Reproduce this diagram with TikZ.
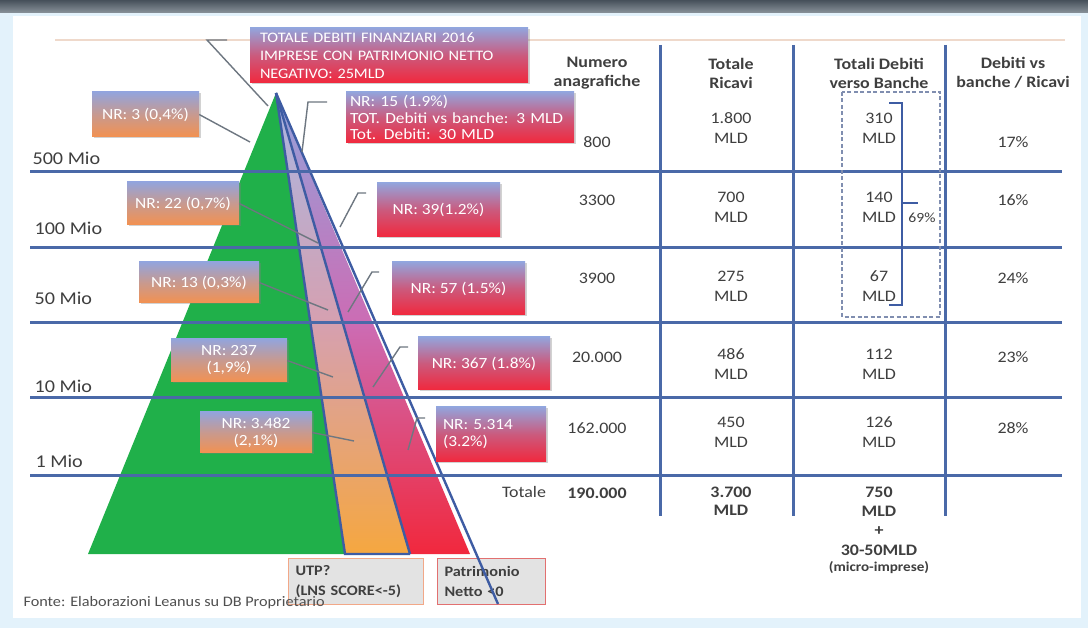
\documentclass[tikz,border=0pt]{standalone}
\usepackage{fontspec}
\setmainfont{Carlito}[FakeStretch=1.12]
\usetikzlibrary{calc,shadows}
\definecolor{skyback}{HTML}{E3F2FB}
\definecolor{barlight}{HTML}{8A939B}
\definecolor{bardark}{HTML}{46505A}
\definecolor{ruleblue}{HTML}{4A69A8}
\definecolor{edgeblue}{HTML}{3E5CA3}
\definecolor{leadgray}{HTML}{6E7781}
\definecolor{txtgray}{HTML}{3F3F3F}
\definecolor{lavtop}{HTML}{93A4DC}
\definecolor{orabot}{HTML}{F39150}
\definecolor{redbot}{HTML}{F1283D}
\definecolor{pyrgreen}{HTML}{20B04A}
\definecolor{peach}{HTML}{EFD9CB}
\newcommand{\callout}[3]{
\draw[lead] (#1) -- (#2) -- (#3);
}
\tikzset{
  rowline/.style={draw=ruleblue, line width=3pt},
  edge/.style={draw=edgeblue, line width=2.4pt},
  lead/.style={draw=leadgray, line width=1.4pt},
  nrbox/.style={inner sep=2pt, text=white, align=center,
    font=\fontsize{15.5}{17}\selectfont,
    drop shadow={opacity=0.35, shadow xshift=1.5pt, shadow yshift=-1.5pt}},
  lbox/.style={nrbox, top color=lavtop, bottom color=orabot, middle color=lavtop!45!orabot},
  rbox/.style={nrbox, top color=lavtop, bottom color=redbot, middle color=lavtop!40!redbot},
  cell/.style={text=txtgray, align=center, font=\fontsize{16}{20}\selectfont},
  hdr/.style={text=txtgray, align=center, font=\fontsize{16}{19}\selectfont\bfseries},
  band/.style={text=txtgray, anchor=west, font=\fontsize{18}{20}\selectfont},
  legbox/.style={fill=gray!22, line width=1pt, minimum height=46pt, inner xsep=7pt,
    text=txtgray, align=left, anchor=north west, font=\fontsize{14.5}{20}\selectfont\bfseries}
}
\begin{document}
\begin{tikzpicture}[x=1pt, y=-1pt]
\useasboundingbox (0, 0) rectangle (1088, 628);
\fill[skyback] (0, 0) rectangle (1088, 628);
\shade[top color=bardark, bottom color=barlight] (0, 0) rectangle (1088, 13);
\fill[white] (13, 16) rectangle (1081, 618);
\draw[peach, line width=1.2pt] (55, 40) -- (1065, 40);

\coordinate (apex) at (276, 93);
\coordinate (gleft) at (88, 554);
\coordinate (gright) at (345, 554);
\coordinate (oright) at (410, 554);
\coordinate (rright) at (470, 554);
\coordinate (rtail) at (498, 604);
\fill[pyrgreen] (apex) -- (gleft) -- (gright) -- cycle;
\shade[top color=lavtop!80!white, bottom color=orabot!80!yellow, middle color={rgb,255:red,214;green,160;blue,176}]
  (apex) -- (gright) -- (oright) -- cycle;
\shade[top color=lavtop, bottom color=redbot, middle color={rgb,255:red,204;green,108;blue,180}]
  (apex) -- (oright) -- (rright) -- cycle;

\node[legbox, draw={rgb,255:red,242;green,168;blue,136}, minimum width=135pt, text width=121pt] (utp) at (288, 558) {UTP?\\(LNS SCORE<-5)};
\node[legbox, draw={rgb,255:red,226;green,112;blue,112}, minimum width=108pt, text width=94pt] (pneg) at (437, 558) {Patrimonio\\Netto <0};

\draw[edge] (apex) -- (gright) -- (oright);
\draw[edge] (apex) -- (oright);
\draw[edge] (apex) -- (rtail);

\foreach \yy in {172, 248, 323, 398, 475}
  \draw[rowline] (30, \yy) -- (1062, \yy);
\foreach \xx in {660, 793, 945}
  \draw[rowline] (\xx, 45) -- (\xx, 516);

\node[band] (m500) at (29, 158) {500 Mio};
\node[band] (m100) at (31, 228) {100 Mio};
\node[band] (m50) at (31, 298) {50 Mio};
\node[band] (m10) at (31, 386) {10 Mio};
\node[band] (m1) at (32, 461) {1 Mio};

\coordinate (tstub) at (227, 40);
\coordinate (tbend) at (207, 40);
\coordinate (ttip) at (268, 106);
\callout{tstub}{tbend}{ttip}
\coordinate (l1tip) at (250, 142);
\coordinate (l2tip) at (318, 243);
\coordinate (l3tip) at (328, 310);
\coordinate (l4tip) at (333, 377);
\coordinate (l5tip) at (354, 441);
\coordinate (r1a) at (327, 102);
\coordinate (r1b) at (308, 102);
\coordinate (r1c) at (302, 152);
\coordinate (r2a) at (366, 193);
\coordinate (r2b) at (358, 193);
\coordinate (r2c) at (340, 227);
\coordinate (r3a) at (379, 272);
\coordinate (r3b) at (372, 272);
\coordinate (r3c) at (348, 312);
\coordinate (r4a) at (408, 347);
\coordinate (r4b) at (400, 347);
\coordinate (r4c) at (373, 387);
\coordinate (r5a) at (425, 418);
\coordinate (r5b) at (417, 418);
\coordinate (r5c) at (408, 450);
\callout{r1a}{r1b}{r1c}
\callout{r2a}{r2b}{r2c}
\callout{r3a}{r3b}{r3c}
\callout{r4a}{r4b}{r4c}
\callout{r5a}{r5b}{r5c}

\node[lbox, minimum width=107pt, minimum height=45pt] (lnr3) at (145.5, 114.5) {NR: 3 (0,4\%)};
\node[lbox, minimum width=112pt, minimum height=43pt] (lnr22) at (183, 203.5) {NR: 22 (0,7\%)};
\node[lbox, minimum width=120pt, minimum height=41pt] (lnr13) at (199, 282.5) {NR: 13 (0,3\%)};
\node[lbox, minimum width=116pt, minimum height=43pt] (lnr237) at (229, 360.5) {NR: 237\\(1,9\%)};
\node[lbox, minimum width=112pt, minimum height=41pt] (lnr3482) at (256, 432.5) {NR: 3.482\\(2,1\%)};
\draw[lead] (lnr3.east) -- (l1tip);
\draw[lead] (lnr22.east) -- (l2tip);
\draw[lead] (lnr13.east) -- (l3tip);
\draw[lead] (lnr237.east) -- (l4tip);
\draw[lead] (lnr3482.east) -- (l5tip);

\node[rbox, minimum width=278pt, minimum height=55pt, align=left, text width=258pt, inner xsep=10pt,
  font=\fontsize{14.5}{18}\selectfont] (titlebox) at (389, 55.5)
  {TOTALE DEBITI FINANZIARI 2016\\IMPRESE CON PATRIMONIO NETTO\\NEGATIVO: 25MLD};
\node[rbox, minimum width=228pt, minimum height=51pt, align=left, text width=220pt, inner xsep=4pt,
  font=\fontsize{15.5}{16.5}\selectfont] (rnr15) at (460, 117.5)
  {NR: 15 (1.9\%)\\TOT. Debiti vs banche: 3 MLD\\Tot. Debiti: 30 MLD};
\node[rbox, minimum width=123pt, minimum height=54pt] (rnr39) at (438.5, 210) {NR: 39(1.2\%)};
\node[rbox, minimum width=133pt, minimum height=53pt] (rnr57) at (458.5, 288.5) {NR: 57 (1.5\%)};
\node[rbox, minimum width=132pt, minimum height=53pt] (rnr367) at (484, 363.5) {NR: 367 (1.8\%)};
\node[rbox, minimum width=110pt, minimum height=55pt, align=left, text width=96pt, inner xsep=7pt] (rnr5314) at (491, 434.5) {NR: 5.314\\(3.2\%)};

\node[hdr] (hnum) at (597, 73) {Numero\\anagrafiche};
\node[hdr] (hric) at (731, 73) {Totale\\Ricavi};
\node[hdr] (hdeb) at (879, 73) {Totali Debiti\\verso Banche};
\node[hdr] (hrat) at (1013, 73) {Debiti vs\\banche / Ricavi};

\node[cell] (n1) at (597, 142) {800};
\node[cell] (v1) at (731, 128) {1.800\\MLD};
\node[cell] (d1) at (879, 128) {310\\MLD};
\node[cell] (p1) at (1013, 142) {17\%};
\node[cell] (n2) at (597, 200) {3300};
\node[cell] (v2) at (731, 207) {700\\MLD};
\node[cell] (d2) at (879, 207) {140\\MLD};
\node[cell] (p2) at (1013, 200) {16\%};
\node[cell] (n3) at (597, 278) {3900};
\node[cell] (v3) at (731, 286) {275\\MLD};
\node[cell] (d3) at (879, 286) {67\\MLD};
\node[cell] (p3) at (1013, 278) {24\%};
\node[cell] (n4) at (597, 357) {20.000};
\node[cell] (v4) at (731, 364) {486\\MLD};
\node[cell] (d4) at (879, 364) {112\\MLD};
\node[cell] (p4) at (1013, 357) {23\%};
\node[cell] (n5) at (597, 428) {162.000};
\node[cell] (v5) at (731, 432) {450\\MLD};
\node[cell] (d5) at (879, 432) {126\\MLD};
\node[cell] (p5) at (1013, 428) {28\%};
\node[cell] (ntotlab) at (524, 492) {Totale};
\node[cell, font=\fontsize{16}{19}\selectfont\bfseries] (ntot) at (597, 493) {190.000};
\node[cell, font=\fontsize{16}{18}\selectfont\bfseries] (vtot) at (731, 501) {3.700\\MLD};
\node[cell, font=\fontsize{16}{19.3}\selectfont\bfseries] (dtot) at (879, 521) {750\\MLD\\+\\30-50MLD};
\node[cell, font=\fontsize{13.5}{14}\selectfont\bfseries] (dmicro) at (879, 568) {(micro-imprese)};

\draw[draw={rgb,255:red,128;green,142;blue,176}, line width=1.3pt, dash pattern=on 4pt off 2.5pt] (842, 92) rectangle (940, 317);
\coordinate (brtop) at (889, 103);
\coordinate (brbot) at (889, 305);
\draw[edgeblue, line width=2pt] (brtop) -- (902, 103) -- (902, 305) -- (brbot);
\draw[edgeblue, line width=2pt] (902, 203) -- (918, 203);
\node[cell, font=\fontsize{14}{15}\selectfont] (pct69) at (922, 218) {69\%};

\node[anchor=west, text={rgb,255:red,80;green,80;blue,80}, font=\fontsize{14.5}{16}\selectfont] (fonte) at (20, 603) {Fonte: Elaborazioni Leanus su DB Proprietario};
\end{tikzpicture}
\end{document}
